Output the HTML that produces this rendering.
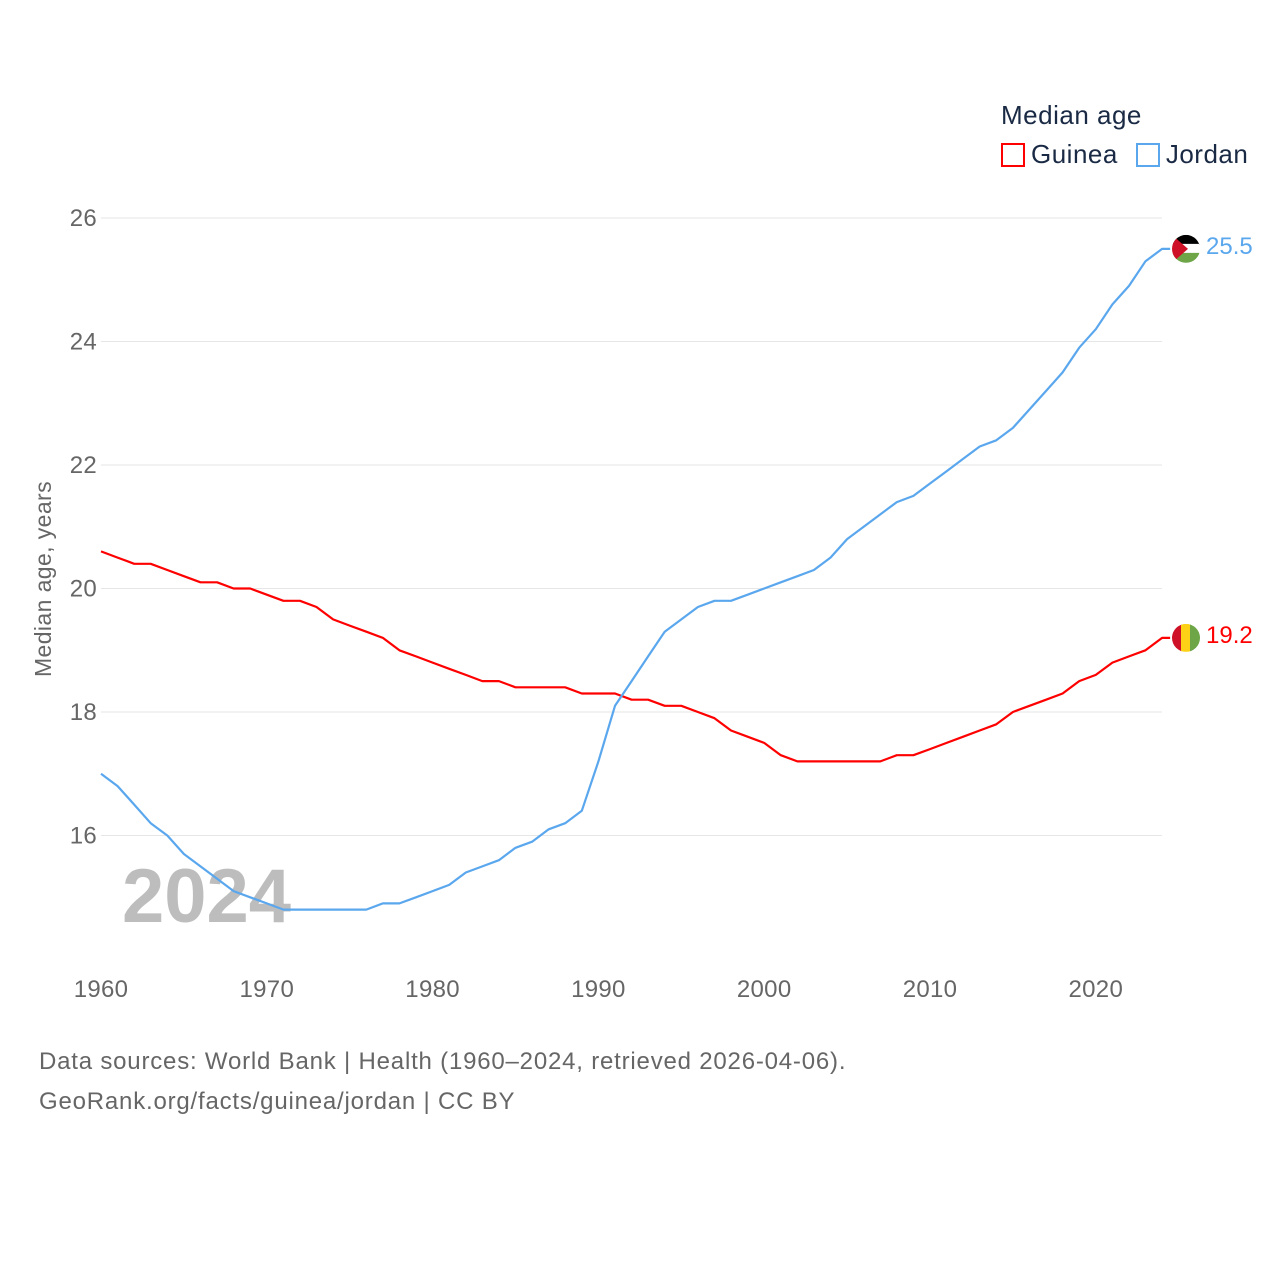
<!DOCTYPE html>
<html><head><meta charset="utf-8"><style>
body{margin:0;background:#fff;width:1280px;height:1280px;overflow:hidden;font-family:"Liberation Sans",sans-serif}
</style></head><body>
<svg width="1280" height="1280" id="chart" font-family="Liberation Sans, sans-serif"></svg>
<script>
const years=[];for(let y=1960;y<=2024;y++)years.push(y);
const guinea=[20.6,20.5,20.4,20.4,20.3,20.2,20.1,20.1,20.0,20.0,19.9,19.8,19.8,19.7,19.5,19.4,19.3,19.2,19.0,18.9,18.8,18.7,18.6,18.5,18.5,18.4,18.4,18.4,18.4,18.3,18.3,18.3,18.2,18.2,18.1,18.1,18.0,17.9,17.7,17.6,17.5,17.3,17.2,17.2,17.2,17.2,17.2,17.2,17.3,17.3,17.4,17.5,17.6,17.7,17.8,18.0,18.1,18.2,18.3,18.5,18.6,18.8,18.9,19.0,19.2];
const jordan=[17.0,16.8,16.5,16.2,16.0,15.7,15.5,15.3,15.1,15.0,14.9,14.8,14.8,14.8,14.8,14.8,14.8,14.9,14.9,15.0,15.1,15.2,15.4,15.5,15.6,15.8,15.9,16.1,16.2,16.4,17.2,18.1,18.5,18.9,19.3,19.5,19.7,19.8,19.8,19.9,20.0,20.1,20.2,20.3,20.5,20.8,21.0,21.2,21.4,21.5,21.7,21.9,22.1,22.3,22.4,22.6,22.9,23.2,23.5,23.9,24.2,24.6,24.9,25.3,25.5];
const yTicks=[16,18,20,22,24,26];
const xTicks=[1960,1970,1980,1990,2000,2010,2020];
const X=y=>101+(y-1960)*16.58;
const Y=v=>218+(26-v)*61.75;
const svg=document.getElementById('chart');const NS='http://www.w3.org/2000/svg';
function mk(t,a,txt){const e=document.createElementNS(NS,t);for(const k in a)e.setAttribute(k,a[k]);if(txt!=null)e.textContent=txt;svg.appendChild(e);return e;}
yTicks.forEach(v=>{
const g=mk('line',{x1:101,x2:1162,y1:Y(v),y2:Y(v),stroke:'#e6e6e6','stroke-width':1});


const t=mk('text',{x:97,y:Y(v)+8,'text-anchor':'end','font-size':24,fill:'#666','letter-spacing':0.3},v);


});
xTicks.forEach(v=>{
const t=mk('text',{x:X(v),y:997,'text-anchor':'middle','font-size':24,fill:'#666','letter-spacing':0.3},v);


});
const yr=mk('text',{x:122,y:922,'font-size':76,'font-weight':'bold',fill:'#bdbdbd'},'2024');


const yt=mk('text',{x:0,y:0,transform:'translate(51,579) rotate(-90)','text-anchor':'middle','font-size':23,fill:'#666','letter-spacing':0.4},'Median age, years');


function series(arr,color,name){
const d=arr.map((v,i)=>(i?'L':'M')+X(years[i]).toFixed(1)+','+Y(v).toFixed(1)).join(' ')+' L'+(X(2024)+8)+','+Y(arr[arr.length-1]).toFixed(1);
const p=mk('path',{d:d,fill:'none',stroke:color,'stroke-width':2.2,'stroke-linejoin':'round'});


const v=arr[arr.length-1];
const t=mk('text',{x:1206,y:Y(v)+5,'font-size':24,fill:color},v.toFixed(1));


}
series(guinea,'#ff0000','guinea');
series(jordan,'#5aa7ee','jordan');
const gy=Y(19.2),jy=Y(25.5);
mk('defs',{}).innerHTML='<clipPath id="cg"><circle cx="1186" cy="'+gy+'" r="14"/></clipPath><clipPath id="cj"><circle cx="1186" cy="'+jy+'" r="14"/></clipPath>';
const fg=mk('g',{'clip-path':'url(#cg)'});


fg.innerHTML='<rect x="1172" y="'+(gy-14)+'" width="10" height="28" fill="#ce1126"/><rect x="1181" y="'+(gy-14)+'" width="10" height="28" fill="#fcd116"/><rect x="1190" y="'+(gy-14)+'" width="10" height="28" fill="#6ea547"/>';
const fj=mk('g',{'clip-path':'url(#cj)'});


fj.innerHTML='<rect x="1172" y="'+(jy-14)+'" width="28" height="10" fill="#000"/><rect x="1172" y="'+(jy-5)+'" width="28" height="10" fill="#fff"/><rect x="1172" y="'+(jy+4)+'" width="28" height="10" fill="#6ea547"/><polygon points="1172,'+(jy-14)+' 1188,'+jy+' 1172,'+(jy+14)+'" fill="#ce1126"/>';
</script>
<div style="position:absolute;left:1001px;top:100px;color:#1a2a44;font-size:26px;letter-spacing:0.5px">
<div>Median age</div>
<div style="margin-top:8px;display:flex;align-items:center">
<span style="display:flex;align-items:center"><span style="width:24px;height:24px;border:2px solid #ff0000;box-sizing:border-box;margin-right:6px"></span>Guinea</span>
<span style="display:flex;align-items:center;margin-left:18px"><span style="width:24px;height:24px;border:2px solid #5aa7ee;box-sizing:border-box;margin-right:6px"></span>Jordan</span>
</div></div>
<div style="position:absolute;left:39px;top:1042px;color:#666;font-size:24px;line-height:40px;letter-spacing:0.8px">Data sources: World Bank | Health (1960–2024, retrieved 2026-04-06).<br>GeoRank.org/facts/guinea/jordan | CC BY</div>
</body></html>
